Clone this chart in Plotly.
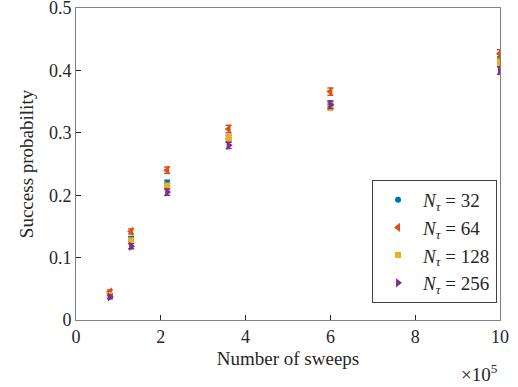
import plotly.graph_objects as go

# Number of sweeps (in units of 1e5)
sweeps = [0.8, 1.3, 2.15, 3.6, 6.0, 10.0]

p32 = [0.040, 0.130, 0.219, 0.291, 0.345, 0.420]
p64 = [0.045, 0.142, 0.240, 0.306, 0.366, 0.427]
p128 = [0.040, 0.127, 0.214, 0.291, 0.342, 0.412]
p256 = [0.037, 0.118, 0.205, 0.280, 0.345, 0.400]

e32 = [0.003, 0.004, 0.005, 0.005, 0.006, 0.006]
e64 = [0.003, 0.004, 0.005, 0.006, 0.006, 0.006]
e128 = [0.003, 0.004, 0.005, 0.005, 0.006, 0.006]
e256 = [0.003, 0.004, 0.005, 0.005, 0.006, 0.006]

labels = ["32", "64", "128", "256"]
colors = ["#0072BD", "#D95319", "#EDB120", "#7E2F8E"]
symbols = ["circle", "triangle-left", "square", "triangle-right"]
sizes = [6, 8, 6, 8]

fig = go.Figure()
for y, e, lab, c, s, sz in zip([p32, p64, p128, p256], [e32, e64, e128, e256],
                               labels, colors, symbols, sizes):
    fig.add_trace(go.Scatter(
        x=sweeps, y=y, mode="markers",
        name=f"<i>N</i><sub><i>τ</i></sub> = {lab}",
        marker=dict(color=c, symbol=s, size=sz),
        error_y=dict(type="data", array=e, color=c, thickness=1.5, width=3),
    ))

axis_common = dict(
    showgrid=False, zeroline=False, showline=True, mirror=True,
    linecolor="#808080", linewidth=1, ticks="inside", ticklen=5,
    tickcolor="#262626", ticklabeloverflow="allow", automargin=False,
    tickfont=dict(family="Liberation Serif", size=18, color="#262626"),
)

fig.update_layout(
    width=518, height=387,
    margin=dict(l=76, r=18, t=8, b=67),
    paper_bgcolor="white", plot_bgcolor="white",
    font=dict(family="Liberation Serif", color="#262626"),
    xaxis=dict(range=[0, 10.0001], tickvals=[0, 2, 4, 6, 8, 10],
               title=dict(text="Number of sweeps", font=dict(size=19), standoff=6),
               **axis_common),
    yaxis=dict(range=[0, 0.50001], tickvals=[0, 0.1, 0.2, 0.3, 0.4, 0.5],
               ticktext=["0", "0.1", "0.2", "0.3", "0.4", "0.5"],
               title=dict(text="Success probability", font=dict(size=19), standoff=10),
               **axis_common),
    legend=dict(x=0.993, y=0.055, xanchor="right", yanchor="bottom",
                bgcolor="white", bordercolor="#404040", borderwidth=1,
                font=dict(family="Liberation Serif", size=19, color="#262626"),
                tracegroupgap=0, itemwidth=40),
    showlegend=True,
)

fig.add_annotation(text="×10<sup>5</sup>", xref="paper", yref="paper",
                   x=1.0, y=-0.125, xanchor="right", yanchor="top",
                   showarrow=False, font=dict(family="Liberation Serif", size=19, color="#262626"))

fig.write_html("out.html")
